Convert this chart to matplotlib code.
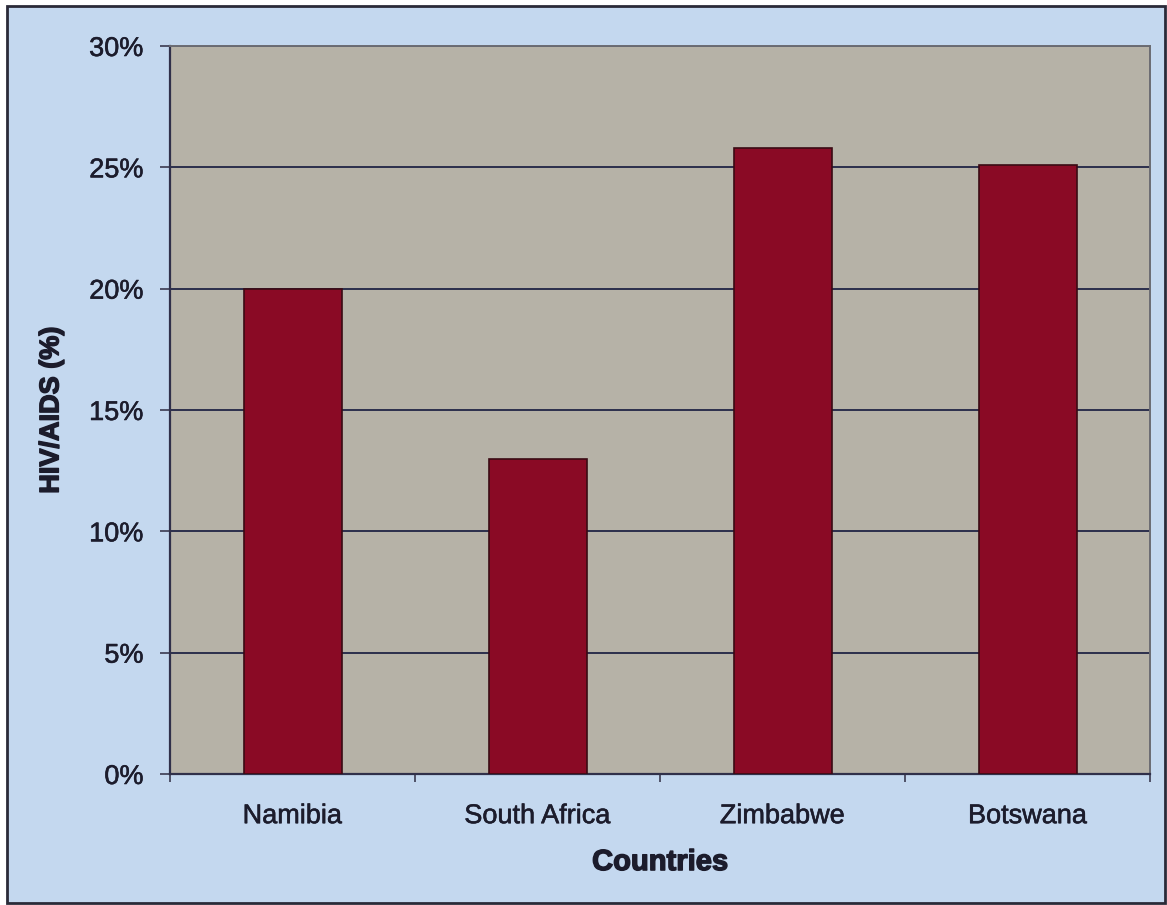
import matplotlib
matplotlib.use("Agg")
import matplotlib.pyplot as plt
import matplotlib.patheffects as pe
from matplotlib.patches import Rectangle
from matplotlib.ticker import FixedLocator, PercentFormatter

countries = ["Namibia", "South Africa", "Zimbabwe", "Botswana"]
hiv_rate = [20.0, 13.0, 25.8, 25.1]
y_ticks = [0, 5, 10, 15, 20, 25, 30]

plt.rcParams["font.family"] = ["Liberation Sans", "DejaVu Sans"]

TEXT = "#1c1c2c"
tick_fx = [pe.withStroke(linewidth=0.4, foreground=TEXT)]
title_fx = [pe.withStroke(linewidth=1.0, foreground=TEXT)]

fig = plt.figure(figsize=(11.67, 9.05), dpi=100)
fig.patch.set_facecolor("white")

# light blue chart area with dark frame
fig.patches.append(Rectangle((7 / 1167, 2 / 905), 1158 / 1167, 897 / 905,
                             transform=fig.transFigure, facecolor="#c4d8ef",
                             edgecolor="#2a2a38", linewidth=2, zorder=-1))

ax = fig.add_axes([170 / 1167, 131 / 905, 980 / 1167, 728 / 905])
ax.set_zorder(2)
ax.set_facecolor("#b6b2a7")

x = list(range(len(countries)))
ax.bar(x, hiv_rate, width=0.4, color="#8a0a25", edgecolor="#3a0a14",
       linewidth=1.2, zorder=3)

ax.set_xlim(-0.5, len(countries) - 0.5)
ax.set_ylim(0, 30)
ax.set_yticks(y_ticks)
ax.yaxis.set_major_formatter(PercentFormatter(decimals=0))
ax.yaxis.grid(True, color="#2c2f4c", linewidth=1.4, zorder=1)
ax.set_axisbelow(True)

ax.set_xticks(x)
ax.set_xticklabels(countries)
ax.xaxis.set_minor_locator(FixedLocator([i - 0.5 for i in range(len(countries) + 1)]))
ax.tick_params(axis="x", which="major", length=0, pad=21, labelsize=19.5,
               labelcolor=TEXT)
ax.tick_params(axis="x", which="minor", length=6, width=1.2, color="#3a3a50",
               direction="out")
ax.tick_params(axis="y", length=7, width=1.2, color="#3a3a50", pad=12,
               labelsize=19.5, labelcolor=TEXT)
for lbl in ax.get_xticklabels() + ax.get_yticklabels():
    lbl.set_path_effects(tick_fx)

for side in ["left", "bottom"]:
    ax.spines[side].set_color("#30304a")
    ax.spines[side].set_linewidth(1.6)
for side in ["top", "right"]:
    ax.spines[side].set_color("#6b6c72")
    ax.spines[side].set_linewidth(1.4)

ax.set_ylabel("HIV/AIDS (%)", fontsize=19.5, fontweight="bold", color=TEXT,
              va="center", ha="center", path_effects=title_fx)
ax.yaxis.set_label_coords(-0.121, 0.5)
ax.set_xlabel("Countries", fontsize=21, fontweight="bold", color=TEXT,
              va="center", ha="center", path_effects=title_fx)
ax.xaxis.set_label_coords(0.5, -0.121)

fig.savefig("out.png", dpi=100, facecolor=fig.get_facecolor())
